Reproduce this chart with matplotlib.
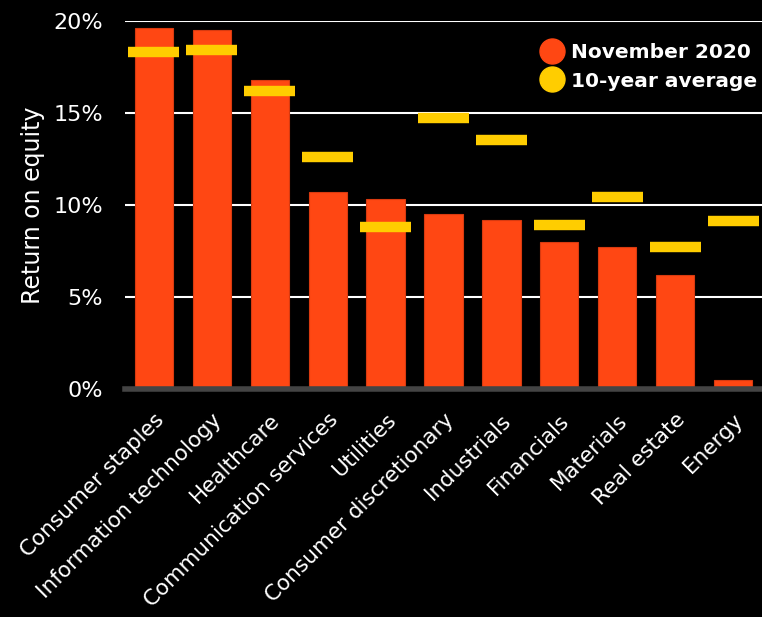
import matplotlib
matplotlib.use("Agg")
import matplotlib.pyplot as plt
from matplotlib.lines import Line2D
import numpy as np

sectors = ["Consumer staples", "Information technology", "Healthcare",
           "Communication services", "Utilities", "Consumer discretionary",
           "Industrials", "Financials", "Materials", "Real estate", "Energy"]
roe_nov_2020 = [19.6, 19.5, 16.8, 10.7, 10.3, 9.5, 9.2, 8.0, 7.7, 6.2, 0.5]
roe_10y_avg = [18.3, 18.4, 16.2, 12.6, 8.8, 14.7, 13.5, 8.9, 10.4, 7.7, 9.1]
y_ticks = [0, 5, 10, 15, 20]

ORANGE = "#ff4713"
YELLOW = "#ffcd00"

fig = plt.figure(figsize=(7.62, 6.17), dpi=100, facecolor="black")
ax = fig.add_axes([0.164, 0.3695, 0.836, 0.597], facecolor="black")

x = np.arange(len(sectors))

# grid behind everything
for t in y_ticks[1:]:
    ax.axhline(t, color="white", lw=1.5, zorder=0)
ax.axhline(0, color="#444444", lw=4, zorder=3, clip_on=False)

ax.bar(x, roe_nov_2020, width=0.66, color=ORANGE, edgecolor="#d83a10",
       linewidth=0.8, zorder=2)
ax.hlines(roe_10y_avg, x - 0.44, x + 0.44, colors=YELLOW, lw=7.5,
          capstyle="butt", zorder=4)

ax.set_xlim(-0.5, len(sectors) - 0.5)
ax.set_ylim(0, 20)
ax.set_yticks(y_ticks)
ax.set_yticklabels([f"{t}%" for t in y_ticks], color="white", fontsize=16)
ax.set_xticks(x)
ax.set_xticklabels(sectors, rotation=45, ha="right", rotation_mode="anchor",
                   color="white", fontsize=15.5)
ax.tick_params(axis="y", length=0, pad=16)
ax.tick_params(axis="x", length=0, pad=15)
for s in ax.spines.values():
    s.set_visible(False)

ax.set_ylabel("Return on equity", color="white", fontsize=17, labelpad=6)

handles = [Line2D([], [], marker="o", ls="", markersize=18, color=ORANGE),
           Line2D([], [], marker="o", ls="", markersize=18, color=YELLOW)]
leg = ax.legend(handles, ["November 2020", "10-year average"], loc="upper right",
                bbox_to_anchor=(1.005, 0.96), frameon=False, handletextpad=0.45,
                labelspacing=0.45, borderaxespad=0.0, handlelength=1.0,
                prop={"weight": "bold", "size": 14.5})
for t in leg.get_texts():
    t.set_color("white")

fig.savefig("out.png", dpi=100, facecolor="black")
